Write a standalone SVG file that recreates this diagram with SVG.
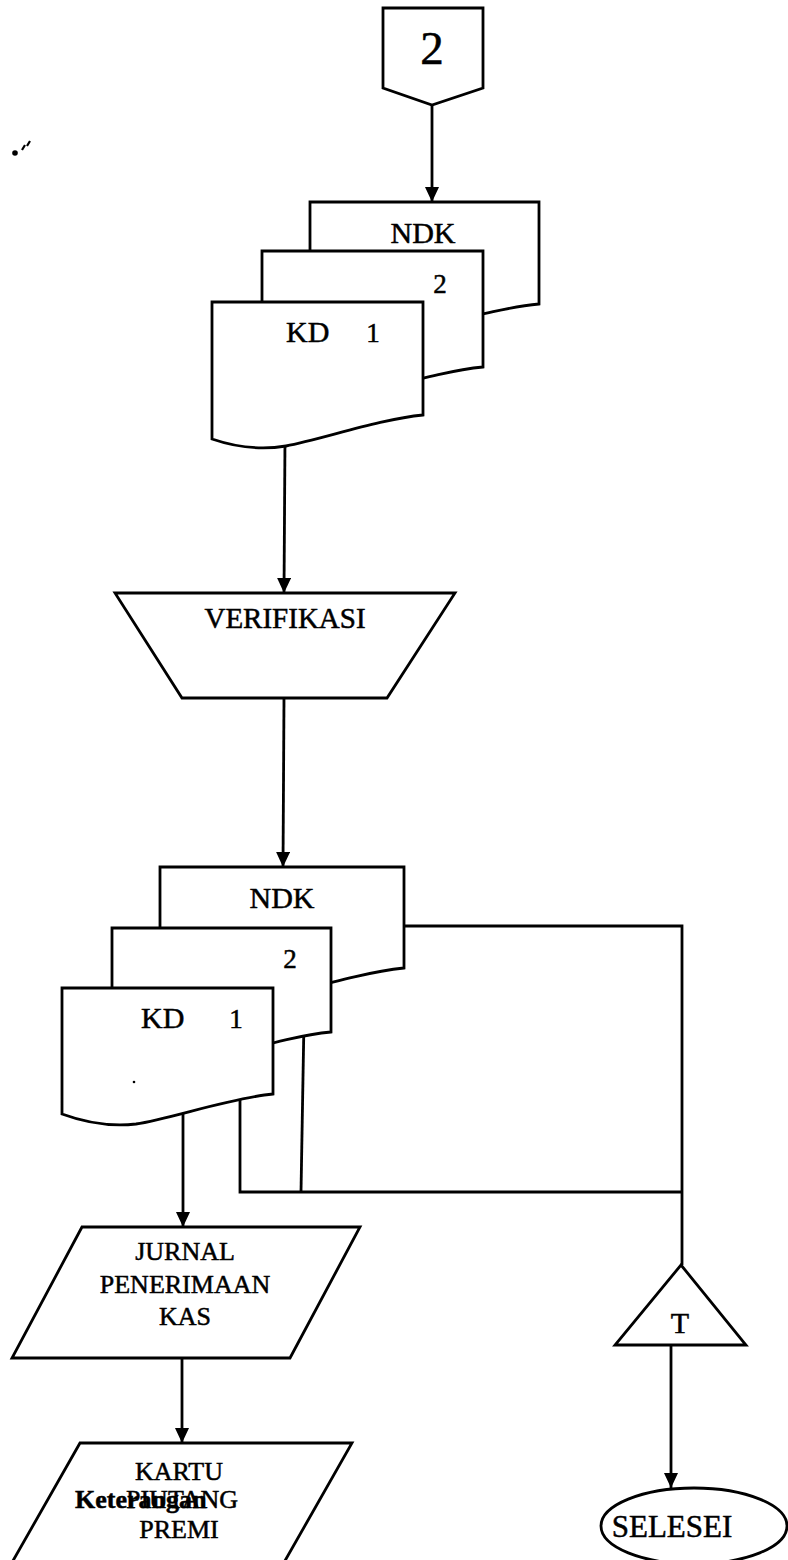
<svg xmlns="http://www.w3.org/2000/svg" width="788" height="1560" viewBox="0 0 788 1560">
<style>
.s{fill:#fff;stroke:#000;stroke-width:2.8;stroke-linejoin:miter}
.c{fill:none;stroke:#000;stroke-width:2.8}
.t{font-family:"Liberation Serif","Times New Roman",serif;fill:#000;stroke:#000;stroke-width:0.5}
.m{text-anchor:middle}
</style>
<defs>
<marker id="ah" markerUnits="userSpaceOnUse" viewBox="0 0 15 14" markerWidth="15" markerHeight="14" refX="15" refY="7" orient="auto">
<path d="M0,0 L15,7 L0,14 Z" fill="#000"/>
</marker>
</defs>
<rect width="788" height="1560" fill="#fff"/>
<g id="marks">
<circle cx="15" cy="153" r="2.8" fill="#000"/>
<path d="M22,150 L25,145 M27,146 L30,141" stroke="#000" stroke-width="2.2" fill="none"/>
</g>
<g id="connectors">
<path class="c" d="M432,105 V202" marker-end="url(#ah)"/>
<path class="c" d="M285,440 L284,593" marker-end="url(#ah)"/>
<path class="c" d="M284,698 L283,867" marker-end="url(#ah)"/>
<path class="c" d="M183,1100 V1227" marker-end="url(#ah)"/>
<path class="c" d="M182,1358 V1443" marker-end="url(#ah)"/>
<path class="c" d="M671,1345 V1488" marker-end="url(#ah)"/>
<path class="c" d="M404,926 H682 V1265"/>
<path class="c" d="M240,1090 V1192 H682"/>
<path class="c" d="M304,1020 L301,1192"/>
</g>
<g id="conn2">
<path class="s" d="M383,8 H483 V88 L432,105 L383,88 Z"/>
<text class="t m" x="432" y="64" font-size="47">2</text>
</g>
<g id="stack1">
<path class="s" d="M310,202 H539 V304 C492,308 427,331 390,337 Q351,344 310,330 Z"/>
<text class="t m" x="423" y="243" font-size="30">NDK</text>
<path class="s" d="M262,251 H483 V367 C438,371 375,393 340,399 Q302,406 262,392 Z"/>
<text class="t m" x="440" y="293" font-size="27">2</text>
<path class="s" d="M212,302 H423 V415 C380,419 320,440 286,446 Q250,452 212,439 Z"/>
<text class="t" x="286" y="342" font-size="30">KD</text>
<text class="t m" x="373" y="342" font-size="27">1</text>
</g>
<g id="verifikasi">
<path class="s" d="M115,593 H455 L387,698 H182 Z"/>
<text class="t m" x="285" y="628" font-size="29">VERIFIKASI</text>
</g>
<g id="stack2">
<path class="s" d="M160,867 H404 V968 C354,973 285,997 246,1004 Q204,1011 160,996 Z"/>
<text class="t m" x="282" y="908" font-size="30">NDK</text>
<path class="s" d="M112,928 H331 V1032 C286,1036 224,1058 189,1064 Q151,1070 112,1056 Z"/>
<text class="t m" x="290" y="968" font-size="27">2</text>
<path class="s" d="M62,988 H273 V1094 C230,1098 170,1119 136,1124 Q100,1128 62,1114 Z"/>
<text class="t" x="141" y="1028" font-size="30">KD</text>
<text class="t m" x="236" y="1028" font-size="27">1</text>
<circle cx="134" cy="1082" r="1.3" fill="#000"/>
</g>
<g id="jurnal">
<path class="s" d="M82,1227 H360 L290,1358 H12 Z"/>
<text class="t m" x="185" y="1260" font-size="26">JURNAL</text>
<text class="t m" x="185" y="1293" font-size="26">PENERIMAAN</text>
<text class="t m" x="185" y="1325" font-size="26">KAS</text>
</g>
<g id="kartu">
<path class="s" d="M80,1443 H352 L282,1566 H10 Z"/>
<text class="t m" x="179" y="1480" font-size="26">KARTU</text>
<text class="t m" x="182" y="1508" font-size="26">PIUTANG</text>
<text class="t" x="75" y="1508" font-size="26" font-weight="bold">Keterangan</text>
<text class="t m" x="179" y="1538" font-size="26">PREMI</text>
</g>
<g id="tnode">
<path class="s" d="M681,1265 L746,1345 H615 Z"/>
<text class="t m" x="680" y="1333" font-size="30">T</text>
</g>
<g id="selesei">
<ellipse class="s" cx="694" cy="1526" rx="93" ry="38"/>
<text class="t m" x="672" y="1537" font-size="31">SELESEI</text>
</g>
</svg>
